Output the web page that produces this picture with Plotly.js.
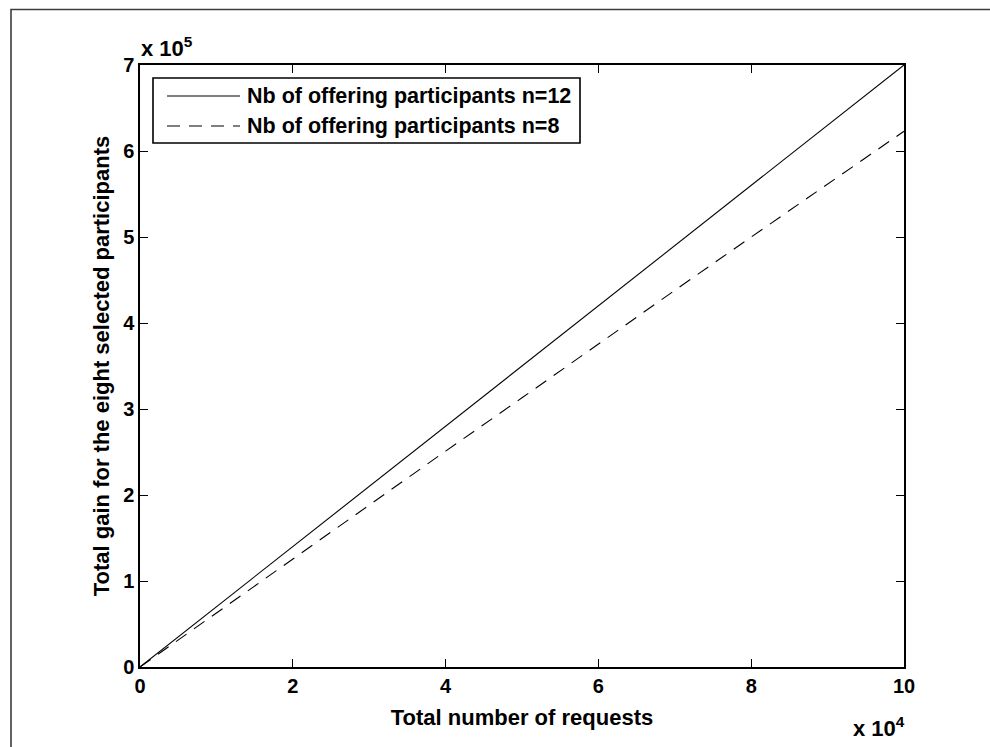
<!DOCTYPE html>
<html>
<head>
<meta charset="utf-8">
<script src="https://cdn.plot.ly/plotly-3.0.1.min.js"></script>
<style>
  html, body { margin: 0; padding: 0; background: #ffffff; }
  #chart { width: 990px; height: 747px; }
</style>
</head>
<body>
<div id="chart"></div>
<script>
// Data
const totalRequests = [0, 10000, 20000, 30000, 40000, 50000, 60000, 70000, 80000, 90000, 100000];
const gainN12 = [0, 70000, 140000, 210000, 280000, 350000, 420000, 490000, 560000, 630000, 700000];
const gainN8  = [0, 63000, 126000, 188000, 251000, 313000, 376000, 438000, 500000, 562000, 623000];
const seriesNames = ["Nb of offering participants n=12", "Nb of offering participants n=8"];
const xTickVals = [0, 2, 4, 6, 8, 10];
const yTickVals = [0, 1, 2, 3, 4, 5, 6, 7];
const xScale = 1e4;
const yScale = 1e5;

const FONT = "Liberation Sans, Arial, Helvetica, sans-serif";

const xs = totalRequests.map(v => v / xScale);
const traces = [
  { x: xs, y: gainN12.map(v => v / yScale), name: seriesNames[0], type: "scatter", mode: "lines",
    line: { color: "#000000", width: 1.1 }, showlegend: false },
  { x: xs, y: gainN8.map(v => v / yScale), name: seriesNames[1], type: "scatter", mode: "lines",
    line: { color: "#000000", width: 1.1, dash: "13px,9px" }, showlegend: false }
];

const axisCommon = {
  showline: true, linecolor: "#000000", linewidth: 1.6, mirror: "ticks",
  ticks: "inside", ticklen: 8, tickwidth: 1, tickcolor: "#000000",
  showgrid: false, zeroline: false, automargin: false,
  tickfont: { family: FONT, size: 20, color: "#000000", weight: "bold" }
};

// paper-coordinate helpers (plot area: x 140..904, y 65..667)
const L = 140, R = 904, T = 65, B = 667;
const px = v => (v - L) / (R - L);
const py = v => (B - v) / (B - T);

const layout = {
  width: 990, height: 747,
  margin: { l: L, r: 990 - R, t: T, b: 747 - B },
  paper_bgcolor: "#ffffff", plot_bgcolor: "#ffffff",
  font: { family: FONT, color: "#000000" },
  xaxis: Object.assign({}, axisCommon, {
    range: [0, 10], tickvals: xTickVals, ticktext: xTickVals.map(String),
    title: { text: "Total number of requests", font: { family: FONT, size: 22, weight: "bold" }, standoff: 14 }
  }),
  yaxis: Object.assign({}, axisCommon, {
    range: [0, 7], tickvals: yTickVals, ticktext: yTickVals.map(String),
    title: { text: "Total gain for the eight selected participants", font: { family: FONT, size: 22, weight: "bold" }, standoff: 7 }
  }),
  shapes: [
    // outer frame (top and left edges visible)
    { type: "path", xref: "paper", yref: "paper",
      path: `M ${px(11)} ${py(760)} L ${px(11)} ${py(9.5)} L ${px(1000)} ${py(9.5)}`,
      line: { color: "#3c3c3c", width: 1.6 } },
    // legend box
    { type: "rect", xref: "paper", yref: "paper",
      x0: px(153), x1: px(580), y0: py(143), y1: py(78),
      line: { color: "#000000", width: 1.6 }, fillcolor: "#ffffff", layer: "above" },
    // legend samples
    { type: "line", xref: "paper", yref: "paper",
      x0: px(167), x1: px(240), y0: py(96), y1: py(96),
      line: { color: "#000000", width: 1.1 }, layer: "above" },
    { type: "line", xref: "paper", yref: "paper",
      x0: px(167), x1: px(240), y0: py(126), y1: py(126),
      line: { color: "#000000", width: 1.1, dash: "13px,9px" }, layer: "above" }
  ],
  annotations: [
    { xref: "paper", yref: "paper", x: px(245), y: py(96), xanchor: "left", yanchor: "middle",
      text: seriesNames[0], showarrow: false,
      font: { family: FONT, size: 21.5, color: "#000000", weight: "bold" } },
    { xref: "paper", yref: "paper", x: px(245), y: py(126), xanchor: "left", yanchor: "middle",
      text: seriesNames[1], showarrow: false,
      font: { family: FONT, size: 21.5, color: "#000000", weight: "bold" } },
    { xref: "paper", yref: "paper", x: px(139), y: py(47), xanchor: "left", yanchor: "middle",
      text: "x 10<sup>5</sup>", showarrow: false,
      font: { family: FONT, size: 22, color: "#000000", weight: "bold" } },
    { xref: "paper", yref: "paper", x: px(907), y: py(727), xanchor: "right", yanchor: "middle",
      text: "x 10<sup>4</sup>", showarrow: false,
      font: { family: FONT, size: 22, color: "#000000", weight: "bold" } }
  ]
};

Plotly.newPlot("chart", traces, layout, { displayModeBar: false, staticPlot: true });
</script>
</body>
</html>
